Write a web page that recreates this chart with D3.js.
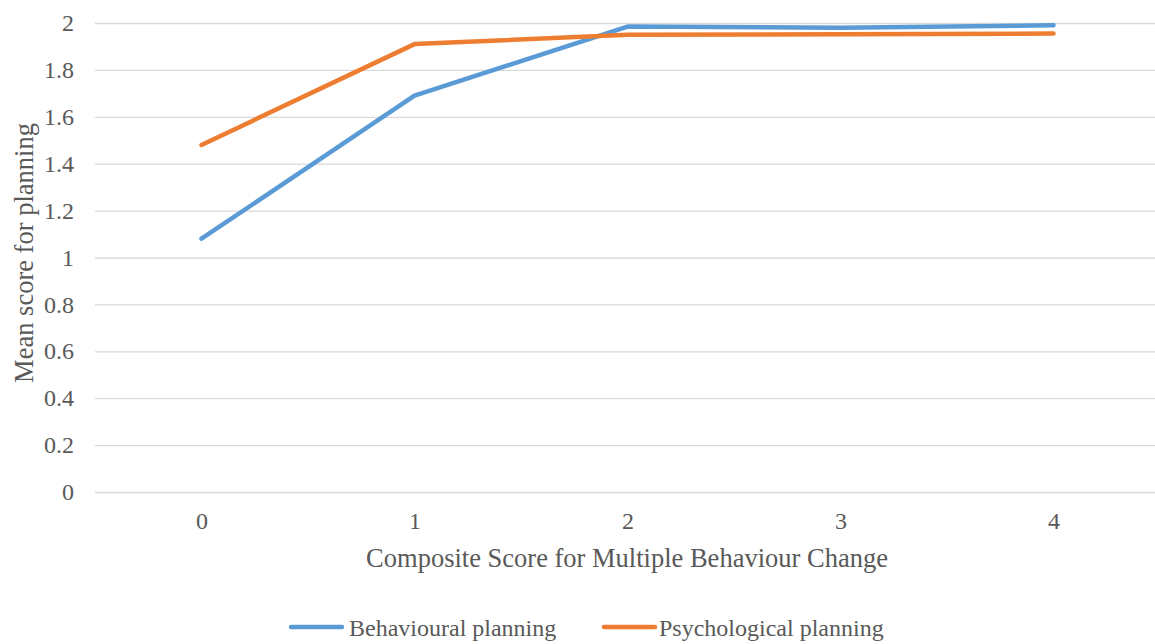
<!DOCTYPE html>
<html>
<head>
<meta charset="utf-8">
<script src="https://cdn.jsdelivr.net/npm/d3@7"></script>
<style>
  html, body { margin: 0; padding: 0; background: #fff; }
</style>
</head>
<body>
<svg id="chart" width="1155" height="644"></svg>
<script>
const categories = ['0', '1', '2', '3', '4'];
const behavioural = [1.08, 1.69, 1.985, 1.98, 1.99];
const psychological = [1.48, 1.91, 1.95, 1.952, 1.955];
const yTicks = [0, 0.2, 0.4, 0.6, 0.8, 1, 1.2, 1.4, 1.6, 1.8, 2];

const series = [
  { name: 'Behavioural planning', values: behavioural, color: '#5B9BD5' },
  { name: 'Psychological planning', values: psychological, color: '#ED7D31' },
];

const FONT = '"Liberation Serif", "Times New Roman", serif';
const TEXT_COLOR = '#595959';
const PLOT_LEFT = 95;
const PLOT_RIGHT = 1160;
const PLOT_TOP = 23;
const PLOT_BOTTOM = 492;

const svg = d3.select('#chart');

const x = d3.scalePoint()
  .domain(categories)
  .range([PLOT_LEFT, PLOT_RIGHT])
  .padding(0.5);

const y = d3.scaleLinear()
  .domain([0, 2])
  .range([PLOT_BOTTOM, PLOT_TOP]);

const styleText = (sel, size = 24) => sel
  .style('font-family', FONT)
  .style('font-size', `${size}px`)
  .style('fill', TEXT_COLOR);

// gridlines + y labels
const yAxis = d3.axisLeft(y)
  .tickValues(yTicks)
  .tickSize(-(PLOT_RIGHT - PLOT_LEFT))
  .tickPadding(21)
  .tickFormat(d => d3.format('~g')(d));

const yG = svg.append('g')
  .attr('transform', `translate(${PLOT_LEFT},0)`)
  .call(yAxis);
yG.select('.domain').remove();
yG.selectAll('.tick line').attr('stroke', '#D9D9D9').attr('stroke-width', 1.3);
yG.selectAll('.tick text').call(styleText);

// x labels
const xAxis = d3.axisBottom(x).tickSize(0).tickPadding(20);
const xG = svg.append('g')
  .attr('transform', `translate(0,${PLOT_BOTTOM})`)
  .call(xAxis);
xG.select('.domain').remove();
xG.selectAll('.tick text').call(styleText);

// lines
const line = d3.line()
  .x((d, i) => x(categories[i]))
  .y(d => y(d));

svg.append('g').selectAll('path')
  .data(series)
  .join('path')
  .attr('d', d => line(d.values))
  .attr('fill', 'none')
  .attr('stroke', d => d.color)
  .attr('stroke-width', 4.5)
  .attr('stroke-linecap', 'round')
  .attr('stroke-linejoin', 'round');

// axis titles
svg.append('text')
  .attr('x', 627)
  .attr('y', 567)
  .attr('text-anchor', 'middle')
  .call(styleText, 26.5)
  .text('Composite Score for Multiple Behaviour Change');

svg.append('text')
  .attr('transform', 'translate(33,253) rotate(-90)')
  .attr('text-anchor', 'middle')
  .call(styleText, 26.5)
  .text('Mean score for planning');

// legend
const legendPos = [
  { x1: 291, x2: 342, textX: 349 },
  { x1: 604, x2: 655, textX: 659 },
];
const legend = svg.append('g').selectAll('g')
  .data(series)
  .join('g');

legend.append('line')
  .attr('x1', (d, i) => legendPos[i].x1)
  .attr('x2', (d, i) => legendPos[i].x2)
  .attr('y1', 627).attr('y2', 627)
  .attr('stroke', d => d.color)
  .attr('stroke-width', 4.5)
  .attr('stroke-linecap', 'round');

legend.append('text')
  .attr('x', (d, i) => legendPos[i].textX)
  .attr('y', 636)
  .call(styleText)
  .text(d => d.name);
</script>
</body>
</html>
